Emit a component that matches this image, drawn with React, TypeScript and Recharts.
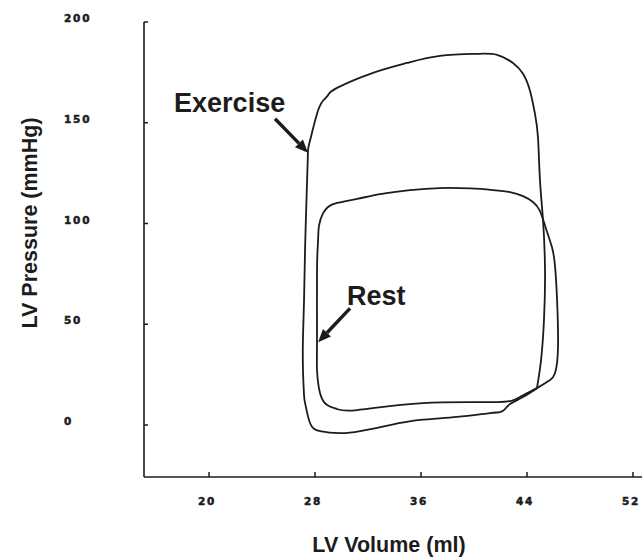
import React from 'react';
import { LineChart, Line, XAxis, YAxis, ReferenceLine, ReferenceDot, Label } from 'recharts';

// Left-ventricular pressure–volume loops, exercise vs rest
const exerciseVolume = [
  44.75, 45.06, 45.28, 45.36, 45.21, 44.98, 44.83, 44.6, 44.23, 43.7, 42.94, 41.74, 40.23,
  37.43, 34.94, 32.38, 29.66, 28.98, 28.6, 28.15, 27.62, 27.47, 27.4, 27.25, 27.17, 27.09,
  27.09, 27.17, 27.25, 27.62, 28.38, 29.89, 31.4, 33.66, 35.92, 38.72, 41.21, 41.96, 42.34,
  42.72, 43.7, 44.75,
];
const exercisePressure = [
  18.3, 32.2, 52.0, 76.7, 101.5, 121.3, 142.6, 154.5, 165.8, 174.3, 179.7, 183.7, 184.2,
  183.2, 179.7, 174.8, 167.3, 163.7, 160.9, 154.5, 141.1, 136.1, 121.3, 88.1, 61.9, 43.6,
  27.2, 14.9, 10.9, 1.0, -3.0, -4.0, -3.0, 0, 2.5, 4.0, 5.9, 6.4, 7.9, 10.4, 13.9, 18.3,
];

const restVolume = [
  45.74, 46.11, 46.34, 46.26, 46.11, 45.89, 45.43, 44.98, 44.45, 43.7, 42.72, 41.43, 39.7,
  37.43, 35.17, 32.91, 31.17, 29.66, 28.98, 28.6, 28.3, 28.23, 28.15, 28.15, 28.15, 28.38,
  28.91, 29.66, 31.17, 36.15, 41.74, 43.47, 44.75, 45.74,
];
const restPressure = [
  22.3, 25.7, 38.6, 63.4, 79.2, 88.1, 97.5, 106.2, 110.7, 113.6, 115.6, 116.6, 117.4, 117.6,
  116.6, 114.6, 112.2, 110.2, 108.2, 105.0, 99.0, 91.6, 76.7, 42.1, 27.2, 15.8, 9.9, 7.9, 7.4,
  10.9, 11.4, 13.9, 18.3, 22.3,
];

const volumeTicks = [20, 28, 36, 44, 52];
const pressureTicks = [0, 50, 100, 150, 200];

const toPoints = (v: number[], p: number[]) => v.map((x, i) => ({ volume: x, pressure: p[i] }));
const exerciseData = toPoints(exerciseVolume, exercisePressure);
const restData = toPoints(restVolume, restPressure);

const INK = '#1c1c1c';
const tickFont = {
  fontFamily: '"DejaVu Sans", Arial, sans-serif',
  fontWeight: 'bold' as const,
  fontSize: 10.5,
  letterSpacing: 1.8,
  fill: INK,
  stroke: INK,
  strokeWidth: 0.5,
};

const XTick = (props: any) => {
  const { x, y, payload } = props;
  return (
    <g>
      <line x1={x} y1={y} x2={x} y2={y - 5} stroke={INK} strokeWidth={1.5} />
      <text x={x - 2} y={y + 24} textAnchor="middle" dominantBaseline="central" {...tickFont}>
        {payload.value}
      </text>
    </g>
  );
};

const YTick = (props: any) => {
  const { x, y, payload } = props;
  return (
    <g>
      <line x1={x} y1={y} x2={x + 4} y2={y} stroke={INK} strokeWidth={1.5} />
      <text x={x - 80} y={y - 4} textAnchor="start" dominantBaseline="central" {...tickFont}>
        {payload.value}
      </text>
    </g>
  );
};

const Arrow = (props: any) => {
  const { x1, y1, x2, y2 } = props;
  const dx = x2 - x1;
  const dy = y2 - y1;
  const len = Math.sqrt(dx * dx + dy * dy);
  const ux = dx / len;
  const uy = dy / len;
  const head = 13;
  const half = 5.5;
  const bx = x2 - ux * head;
  const by = y2 - uy * head;
  return (
    <g>
      <line x1={x1} y1={y1} x2={bx} y2={by} stroke={INK} strokeWidth={3.4} />
      <polygon
        points={`${x2},${y2} ${bx - uy * half},${by + ux * half} ${bx + uy * half},${by - ux * half}`}
        fill={INK}
      />
    </g>
  );
};

const annotationText = (text: string) => (props: any) => (
  <text
    x={props.cx}
    y={props.cy}
    fontFamily="Arial, 'Liberation Sans', sans-serif"
    fontWeight="bold"
    fontSize={27}
    fill={INK}
  >
    {text}
  </text>
);

const XAxisTitle = (props: any) => {
  const { viewBox } = props;
  return (
    <text
      x={viewBox.x + viewBox.width / 2 - 4}
      y={viewBox.y + 75}
      textAnchor="middle"
      fontFamily="Arial, 'Liberation Sans', sans-serif"
      fontWeight="bold"
      fontSize={21.5}
      fill={INK}
    >
      LV Volume (ml)
    </text>
  );
};

const YAxisTitle = (props: any) => {
  const { viewBox } = props;
  const cx = viewBox.x + 30;
  const cy = viewBox.y + 201;
  return (
    <text
      x={cx}
      y={cy}
      transform={`rotate(-90 ${cx} ${cy})`}
      textAnchor="middle"
      dominantBaseline="central"
      fontFamily="Arial, 'Liberation Sans', sans-serif"
      fontWeight="bold"
      fontSize={21.5}
      fill={INK}
    >
      LV Pressure (mmHg)
    </text>
  );
};

export default function App() {
  return (
    <div style={{ position: 'absolute', left: 0, top: 0, background: '#fff' }}>
      <LineChart width={644} height={557} margin={{ top: 22, right: 2, bottom: 0, left: 0 }}>
        <XAxis
          type="number"
          dataKey="volume"
          domain={[15.09, 52.68]}
          ticks={volumeTicks}
          allowDataOverflow
          height={80}
          tickSize={0}
          tickMargin={0}
          tick={XTick}
          axisLine={{ stroke: INK, strokeWidth: 1.6 }}
          tickLine={false}
        >
          <Label content={XAxisTitle} />
        </XAxis>
        <YAxis
          type="number"
          dataKey="pressure"
          domain={[-25.8, 200]}
          ticks={pressureTicks}
          allowDataOverflow
          width={144}
          tickSize={0}
          tickMargin={0}
          tick={YTick}
          axisLine={{ stroke: INK, strokeWidth: 1.6 }}
          tickLine={false}
        >
          <Label content={YAxisTitle} />
        </YAxis>
        <Line
          data={exerciseData}
          dataKey="pressure"
          type="natural"
          stroke={INK}
          strokeWidth={1.8}
          dot={false}
          isAnimationActive={false}
        />
        <Line
          data={restData}
          dataKey="pressure"
          type="natural"
          stroke={INK}
          strokeWidth={1.8}
          dot={false}
          isAnimationActive={false}
        />
        <ReferenceLine
          segment={[{ x: 24.98, y: 152 }, { x: 27.47, y: 135.1 }]}
          shape={Arrow}
        />
        <ReferenceLine
          segment={[{ x: 30.64, y: 57.9 }, { x: 28.23, y: 41.1 }]}
          shape={Arrow}
        />
        <ReferenceDot x={17.36} y={155.3} r={0} shape={annotationText('Exercise')} />
        <ReferenceDot x={30.42} y={59.6} r={0} shape={annotationText('Rest')} />
      </LineChart>
    </div>
  );
}
